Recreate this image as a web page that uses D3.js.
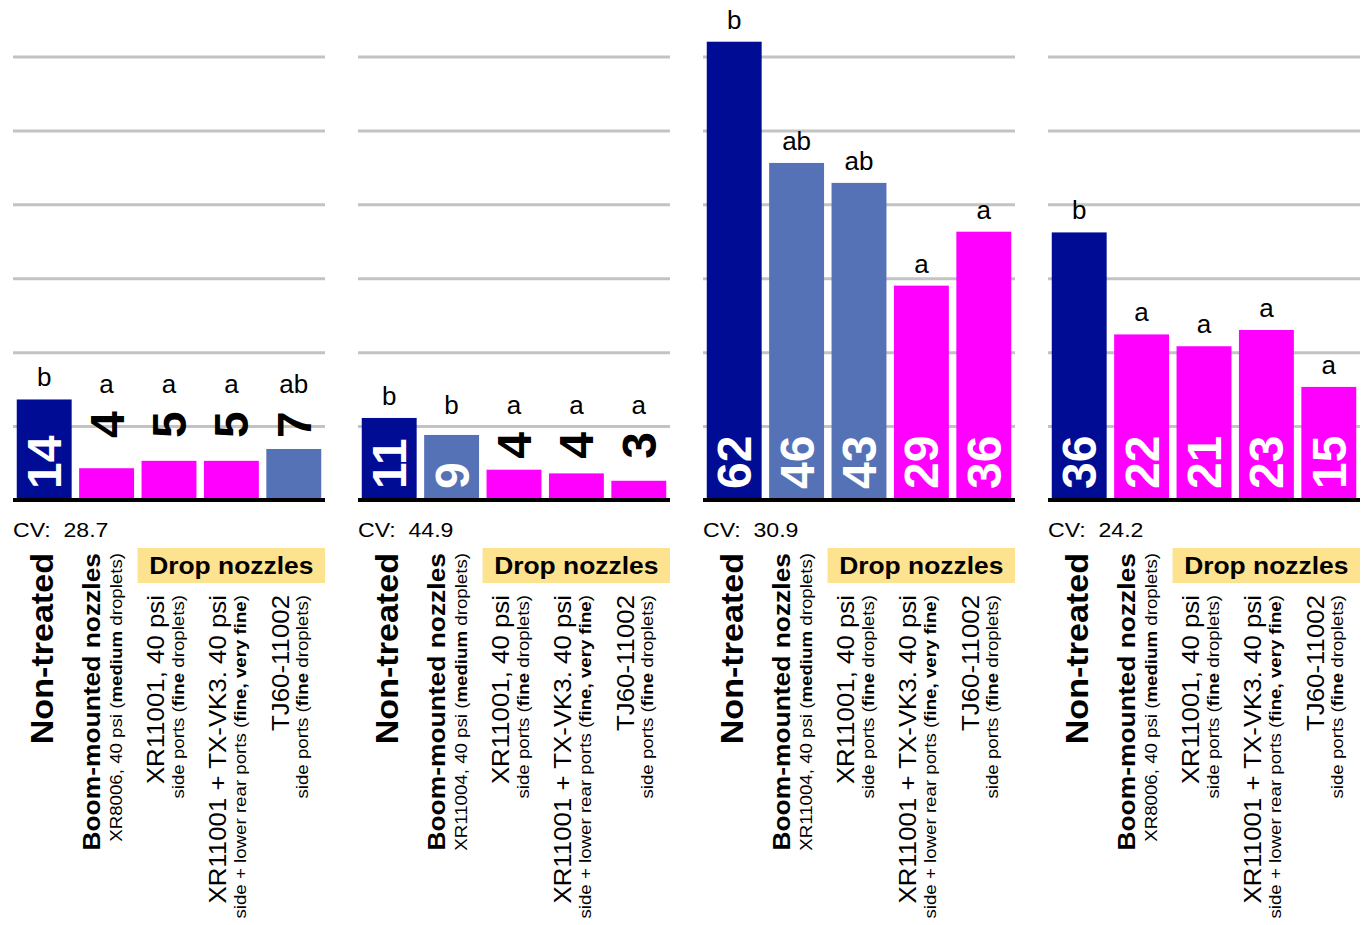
<!DOCTYPE html>
<html>
<head>
<meta charset="utf-8">
<script src="https://cdn.jsdelivr.net/npm/d3@7"></script>
<style>
  body { margin: 0; background: #fff; }
  svg { display: block; font-family: "Liberation Sans", Arial, sans-serif; }
</style>
</head>
<body>
<div id="chart"></div>
<script>
// ---- data ----
const treatments = ["Non-treated", "Boom-mounted nozzles", "XR11001, 40 psi", "XR11001 + TX-VK3. 40 psi", "TJ60-11002"];
const treatmentNotes = [
  "",
  "{boom}, 40 psi (**medium** droplets)",
  "side ports (**fine** droplets)",
  "side + lower rear ports (**fine, very fine**)",
  "side ports (**fine** droplets)"
];
const boomNozzles = ["XR8006", "XR11004", "XR11004", "XR8006"];

const means = [
  [13.6, 4.3, 5.3, 5.3, 6.9],
  [11.1, 8.8, 4.1, 3.6, 2.6],
  [62.0, 45.6, 42.9, 29.0, 36.3],
  [36.2, 22.4, 20.8, 23.0, 15.3]
];
const letters = [
  ["b", "a", "a", "a", "ab"],
  ["b", "b", "a", "a", "a"],
  ["b", "ab", "ab", "a", "a"],
  ["b", "a", "a", "a", "a"]
];
const cvValues = [28.7, 44.9, 30.9, 24.2];
const gridTicks = [10, 20, 30, 40, 50, 60];

// ---- layout ----
const W = 1361, H = 925;
const svg = d3.select("#chart").append("svg").attr("width", W).attr("height", H);

const xPanel = d3.scaleBand().domain(d3.range(means.length)).range([13, 1360]).paddingInner(0.0957).paddingOuter(0);
const pw = xPanel.bandwidth();
const xBar = d3.scaleBand().domain(d3.range(treatments.length)).range([0, pw]).paddingInner(0.12).paddingOuter(0.06);
const bw = xBar.bandwidth();
const y = d3.scaleLinear().domain([0, 60]).range([500, 56.5]);

const colorOf = (i, letter) => i === 0 ? "#000c94" : (letter.includes("b") ? "#5572b7" : "#ff00ff");
const STRETCH = 1.1; // label glyphs are a bit wider than Arial
const insideMin = 8;  // bars shorter than this get their number above

// writes "a **b** c" as tspans, bold where starred
function richText(sel, str) {
  str.split("**").forEach((part, k) => {
    if (!part) return;
    sel.append("tspan").attr("font-weight", k % 2 ? "bold" : "normal").text(part);
  });
}

means.forEach((vals, p) => {
  const g = svg.append("g").attr("transform", `translate(${xPanel(p)},0)`);

  // gridlines
  const grid = g.append("g")
    .call(d3.axisRight(y).tickValues(gridTicks).tickSize(pw).tickFormat(""));
  grid.select(".domain").remove();
  grid.selectAll("line").attr("stroke", "#c3c3c3").attr("stroke-width", 3);

  // bars
  g.selectAll("rect.bar").data(vals).join("rect")
    .attr("class", "bar")
    .attr("x", (d, i) => xBar(i))
    .attr("width", bw)
    .attr("y", d => y(d))
    .attr("height", d => y(0) - y(d))
    .attr("fill", (d, i) => colorOf(i, letters[p][i]));

  // baseline
  g.append("line")
    .attr("x1", 0).attr("x2", pw)
    .attr("y1", y(0)).attr("y2", y(0))
    .attr("stroke", "#000").attr("stroke-width", 4);

  // number labels: white inside tall bars, black above short ones (in one row)
  const shortTops = vals.filter(v => v < insideMin).map(v => y(v));
  const rowBottom = shortTops.length ? d3.min(shortTops) - 11 : null;
  const letterRow = rowBottom != null ? rowBottom - 27 - 18 : Infinity;

  vals.forEach((v, i) => {
    const cx = xBar(i) + bw / 2;
    const inside = v >= insideMin;
    const startY = inside ? y(0) - 11 : rowBottom;
    g.append("text")
      .attr("transform", `translate(${cx + 17},${startY}) rotate(-90)`)
      .attr("text-anchor", "start")
      .attr("font-size", 48)
      .attr("font-weight", "bold")
      .attr("fill", inside ? "#fff" : "#000")
      .text(d3.format(".0f")(v));

    const ly = inside ? Math.min(y(v) - 13, letterRow) : letterRow;
    g.append("text")
      .attr("x", cx).attr("y", ly)
      .attr("text-anchor", "middle")
      .attr("font-size", 26)
      .attr("fill", "#000")
      .text(letters[p][i]);
  });

  // CV
  g.append("text")
    .attr("transform", `translate(0,537) scale(${STRETCH},1)`)
    .attr("font-size", 21)
    .style("white-space", "pre")
    .text(`CV:  ${cvValues[p]}`);

  // drop nozzles header
  const boxX = xBar(2) - 4;
  g.append("rect")
    .attr("x", boxX).attr("y", 548)
    .attr("width", pw - boxX).attr("height", 35)
    .attr("fill", "#fde28f");
  g.append("text")
    .attr("transform", `translate(${(boxX + pw) / 2},574) scale(${STRETCH},1)`)
    .attr("text-anchor", "middle")
    .attr("font-size", 24)
    .attr("font-weight", "bold")
    .text("Drop nozzles");

  // rotated treatment labels
  treatments.forEach((name, i) => {
    const cx = xBar(i) + bw / 2;
    const top = i < 2 ? 553 : 595;
    const lg = g.append("g")
      .attr("transform", `translate(${cx},${top}) rotate(-90) scale(${STRETCH},1)`);
    if (i === 0) {
      lg.append("text").attr("text-anchor", "end").attr("y", 9)
        .attr("font-size", 31).attr("font-weight", "bold").text(name);
      return;
    }
    lg.append("text").attr("text-anchor", "end")
      .attr("y", i === 1 ? -6.5 : -5)
      .attr("font-size", i === 1 ? 24 : 23.5)
      .attr("font-weight", i === 1 ? "bold" : "normal")
      .text(name);
    const note = lg.append("text").attr("text-anchor", "end")
      .attr("y", i === 1 ? 15.5 : 14.5)
      .attr("font-size", 17);
    richText(note, treatmentNotes[i].replace("{boom}", boomNozzles[p]));
  });
});
</script>
</body>
</html>
